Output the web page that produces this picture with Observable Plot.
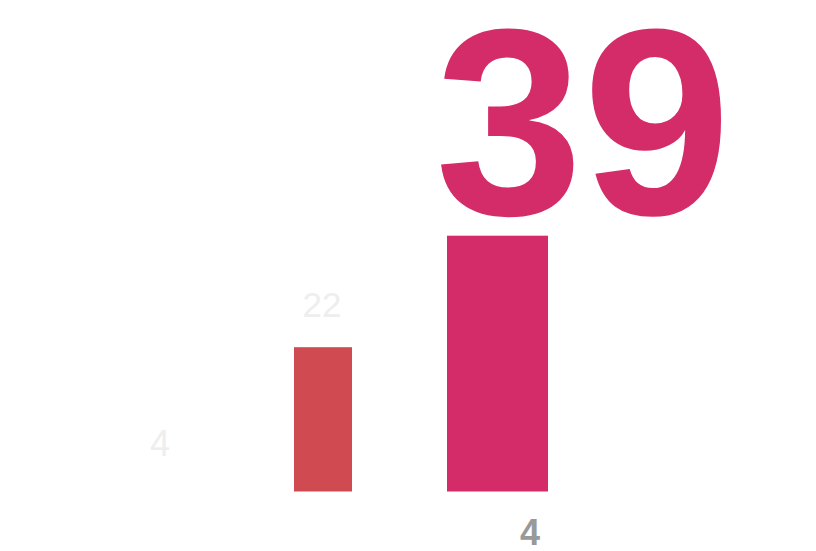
<!DOCTYPE html>
<html>
<head>
<meta charset="utf-8">
<script src="https://cdn.jsdelivr.net/npm/d3@7"></script>
<script src="https://cdn.jsdelivr.net/npm/@observablehq/plot@0.6"></script>
<style>
  html, body { margin: 0; padding: 0; background: #fff; }
  #chart svg { display: block; }
</style>
</head>
<body>
<div id="chart"></div>
<script>
const categories = ["A", "B", "C"];
const values = [4, 22, 39];
const colors = ["#ffffff", "#cf4a51", "#d42b69"];
const bottomLabel = "4";

const data = categories.map((c, i) => ({cat: c, value: values[i], color: colors[i]}));
const pick = (i) => [data[i]];

const chart = Plot.plot({
  width: 816,
  height: 551,
  marginLeft: 72.6,
  marginRight: 235.6,
  marginTop: 0,
  marginBottom: 59.5,
  x: {domain: categories, padding: 0, axis: null},
  y: {domain: [0, 39], range: [491.5, 235.7], axis: null},
  style: {background: "#fff"},
  marks: [
    Plot.barY(pick(0), {x: "cat", y: "value", fill: "color", insetLeft: 40, insetRight: 40}),
    Plot.barY(pick(1), {x: "cat", y: "value", fill: "color", insetLeft: 52, insetRight: 59}),
    Plot.barY(pick(2), {x: "cat", y: "value", fill: "color", insetLeft: 36, insetRight: 32}),
    Plot.text(pick(0), {x: "cat", y: "value", text: d => String(d.value), fill: "#eeeeee",
      fontSize: 36, fontFamily: "Liberation Sans, Arial, sans-serif", dy: -10, dx: 2, lineAnchor: "bottom"}),
    Plot.text(pick(1), {x: "cat", y: "value", text: d => String(d.value), fill: "#eeeeee",
      fontSize: 35, fontFamily: "Liberation Sans, Arial, sans-serif", dy: -31, dx: -5, lineAnchor: "bottom"}),
    Plot.text(pick(2), {x: "cat", y: "value", text: d => String(d.value), fill: "#d42b69",
      fontSize: 266, fontWeight: "bold", fontFamily: "Liberation Sans, Arial, sans-serif",
      textAnchor: "start", dx: -61, dy: -22, lineAnchor: "bottom"}),
    Plot.text(pick(2), {x: "cat", text: () => bottomLabel, frameAnchor: "bottom", fill: "#999999",
      fontSize: 36, fontWeight: "bold", fontFamily: "Liberation Sans, Arial, sans-serif",
      dx: 34, dy: 53, lineAnchor: "bottom"})
  ]
});
document.getElementById("chart").appendChild(chart);
</script>
</body>
</html>
